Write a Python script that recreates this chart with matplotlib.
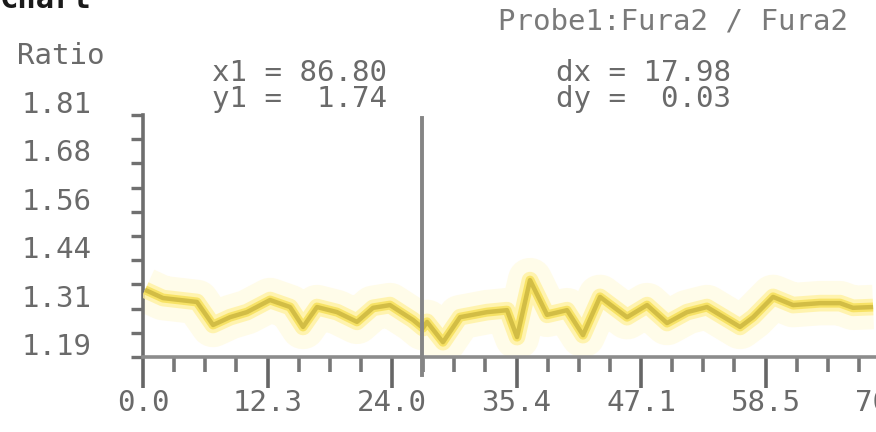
import matplotlib.pyplot as plt
import matplotlib.transforms as mtransforms
import numpy as np

# time axis (s) and ratio trace
time_s = [0.19, 1.88, 5.07, 6.58, 8.18, 9.77, 11.94, 13.82, 15.04, 16.35,
          18.23, 20.11, 21.62, 23.21, 25.37, 26.31, 26.69, 28.19, 29.79, 32.33,
          34.21, 35.15, 36.37, 37.97, 39.85, 41.35, 42.95, 45.49, 47.37, 49.25,
          51.13, 53.00, 56.11, 57.33, 59.21, 61.09, 63.62, 65.50, 66.72, 68.61]
ratio = [1.362, 1.341, 1.331, 1.272, 1.292, 1.305, 1.336, 1.318, 1.267, 1.318,
         1.305, 1.280, 1.316, 1.323, 1.285, 1.264, 1.280, 1.228, 1.292, 1.305,
         1.310, 1.241, 1.387, 1.298, 1.310, 1.246, 1.344, 1.292, 1.323, 1.277,
         1.305, 1.318, 1.267, 1.292, 1.344, 1.323, 1.328, 1.328, 1.316, 1.318]

x_ticks = [0.0, 11.7, 23.4, 35.1, 46.8, 58.5, 70.2]
x_labels = ["0.0", "12.3", "24.0", "35.4", "47.1", "58.5", "70.2"]
y_ticks = [1.19, 1.314, 1.438, 1.562, 1.686, 1.81]
y_labels = ["1.19", "1.31", "1.44", "1.56", "1.68", "1.81"]

cursor_x = 26.2
title_text = "Chart"
probe_text = "Probe1:Fura2 / Fura2"
cursor_text = "x1 = 86.80\ny1 =  1.74"
delta_text = "dx = 17.98\ndy =  0.03"

W, H = 876, 432
fig = plt.figure(figsize=(W / 100, H / 100), dpi=100)
fig.patch.set_facecolor("white")

# axes: left spine at x=143 px, bottom at y=357 px, top at y=115 px
left, bottom, top = 143, 357, 115
x_max = 75.0
px_per_unit = 124.5 / 11.7
ax = fig.add_axes([left / W, (H - bottom) / H,
                   x_max * px_per_unit / W, (bottom - top) / H])
ax.set_xlim(0, x_max)
ax.set_ylim(1.19, 1.81)
ax.set_facecolor("none")

for s in ["top", "right"]:
    ax.spines[s].set_visible(False)
ax.spines["left"].set_color("#6e6e6e")
ax.spines["left"].set_linewidth(2.6)
ax.spines["bottom"].set_color("#8c8c8c")
ax.spines["bottom"].set_linewidth(2.6)

mono = "DejaVu Sans Mono"
txt_col = "#6a6a6a"
fs = 21

# x ticks
ax.set_xticks(x_ticks)
ax.set_xticklabels(x_labels, family=mono, fontsize=fs, color=txt_col)
ax.set_xticks(np.arange(0, x_max, 11.7 / 4), minor=True)
ax.tick_params(axis="x", which="major", direction="out", length=22, width=2.6,
               color="#666666", pad=1)
ax.tick_params(axis="x", which="minor", direction="out", length=11, width=2.6,
               color="#777777")

# y ticks (labels placed by hand, slightly above their tick)
ax.set_yticks(np.linspace(1.19, 1.81, 11))
ax.set_yticklabels([])
ax.tick_params(axis="y", direction="out", length=9, width=2.4, color="#707070")
trans = mtransforms.blended_transform_factory(fig.transFigure, ax.transData)
trans = trans + mtransforms.ScaledTranslation(0, 10 / 100, fig.dpi_scale_trans)
for v, lab in zip(y_ticks, y_labels):
    ax.text(22 / W, v, lab, transform=trans, ha="left", va="center",
            family=mono, fontsize=fs, color=txt_col, clip_on=False)

# yellow trace with soft glow
ax.plot(time_s, ratio, color="#fffbe2", lw=32, alpha=0.75, solid_joinstyle="round",
        solid_capstyle="butt", zorder=2)
ax.plot(time_s, ratio, color="#fff1a0", lw=12, alpha=0.8, solid_joinstyle="round",
        solid_capstyle="butt", zorder=3)
ax.plot(time_s, ratio, color="#f6e058", lw=6.5, alpha=0.85, solid_joinstyle="round",
        solid_capstyle="butt", zorder=4)
ax.plot(time_s, ratio, color="#d2bd45", lw=3.2, solid_joinstyle="round",
        solid_capstyle="butt", zorder=5)

# cursor line
ax.plot([cursor_x, cursor_x], [1.144, 1.802], color="#858585", lw=2.8,
        clip_on=False, zorder=6)

# texts
fig.text(17 / W, 1 - 56 / H, "Ratio", family=mono, fontsize=fs, color=txt_col,
         ha="left", va="center")
fig.text(300 / W, 1 - 86 / H, cursor_text, family=mono, fontsize=fs,
         color=txt_col, ha="center", va="center", linespacing=0.92)
fig.text(643 / W, 1 - 86 / H, delta_text, family=mono, fontsize=fs,
         color=txt_col, ha="center", va="center", linespacing=0.92)
fig.text(673 / W, 1 - 22 / H, probe_text, family=mono, fontsize=fs,
         color="#7a7a7a", ha="center", va="center")
fig.text(0, 1 - 8 / H, title_text, family=mono, fontsize=22, weight="bold",
         color="#1a1a1a", ha="left", va="baseline")

fig.savefig("out.png", dpi=100, facecolor="white")
